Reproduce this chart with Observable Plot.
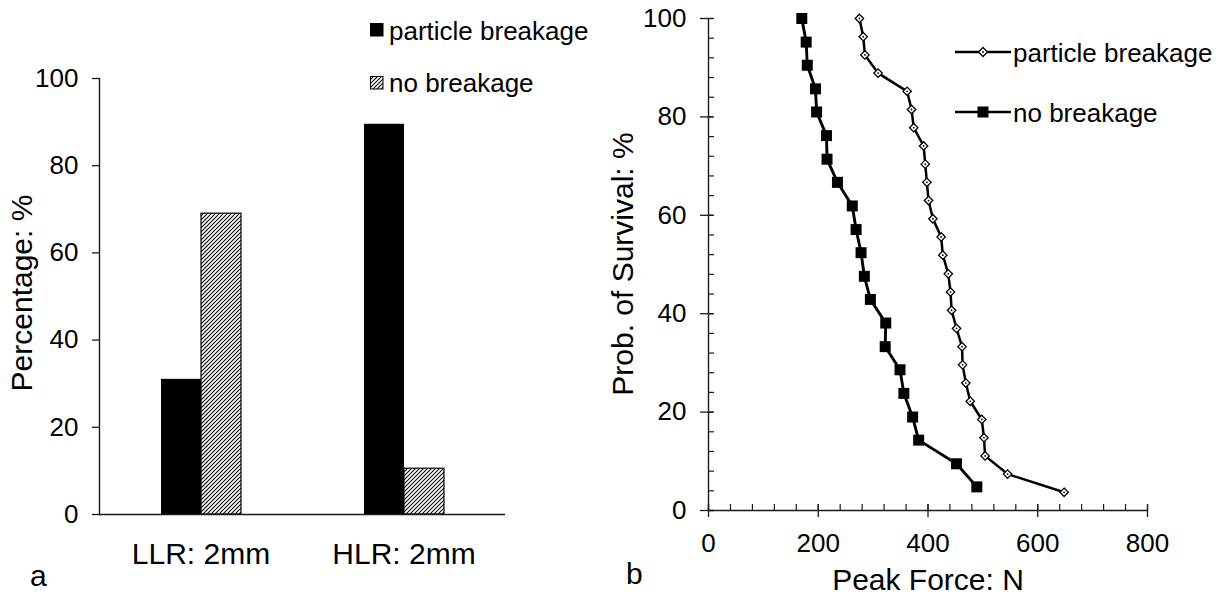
<!DOCTYPE html>
<html><head><meta charset="utf-8">
<script src="https://cdn.jsdelivr.net/npm/d3@7"></script>
<script src="https://cdn.jsdelivr.net/npm/@observablehq/plot@0.6"></script>
<style>
html,body{margin:0;padding:0;background:#fff;}
#wrap{position:relative;width:1224px;height:597px;overflow:hidden;font-family:"Liberation Sans",Arial,sans-serif;color:#000;}
.abs{position:absolute;white-space:nowrap;line-height:1;}
#left{position:absolute;left:0;top:0;}
#right{position:absolute;left:612px;top:0;}
</style></head><body><div id="wrap"><div id="left"></div><div id="right"></div></div>
<script>
// ---------- data: panel a ----------
const categories = ["LLR: 2mm", "HLR: 2mm"];
const seriesNames = ["particle breakage", "no breakage"];
const particleBreakagePct = [31, 89.5];
const noBreakagePct = [69, 10.5];
const percentTicks = [0, 20, 40, 60, 80, 100];

// ---------- data: panel b ----------
const pbForce = [275, 282, 285, 309, 362, 370, 374, 392, 395, 398, 401, 409, 424, 427, 437, 441, 443, 452, 462, 463, 469, 477, 498, 502, 504, 545, 648];
const pbSurvival = [100, 96.3, 92.6, 88.9, 85.2, 81.5, 77.8, 74.1, 70.4, 66.7, 63.0, 59.3, 55.6, 51.9, 48.1, 44.4, 40.7, 37.0, 33.3, 29.6, 25.9, 22.2, 18.5, 14.8, 11.1, 7.4, 3.7];
const nbForce = [170, 178, 180, 195, 197, 215, 216, 235, 262, 269, 278, 284, 295, 323, 322, 349, 356, 372, 383, 452, 489];
const nbSurvival = [100, 95.2, 90.5, 85.7, 81.0, 76.2, 71.4, 66.7, 61.9, 57.1, 52.4, 47.6, 42.9, 38.1, 33.3, 28.6, 23.8, 19.0, 14.3, 9.5, 4.8];
const forceTicks = [0, 200, 400, 600, 800];
const forceMinorTicks = [0, 40, 80, 120, 160, 200, 240, 280, 320, 360, 400, 440, 480, 520, 560, 600, 640, 680, 720, 760, 800];
const survivalTicks = [0, 20, 40, 60, 80, 100];
const survivalMinorTicks = [0, 4, 8, 12, 16, 20, 24, 28, 32, 36, 40, 44, 48, 52, 56, 60, 64, 68, 72, 76, 80, 84, 88, 92, 96, 100];
const panelLabels = ["a", "b"];
const axisTitles = {aY: "Percentage: %", bY: "Prob. of Survival: %", bX: "Peak Force: N"};

const FONT = "'Liberation Sans', Arial, sans-serif";
const AX = "#1a1a1a";

// ---------- panel a ----------
const barData = [];
categories.forEach((c, i) => {
  barData.push({cat: c, series: seriesNames[0], value: particleBreakagePct[i]});
  barData.push({cat: c, series: seriesNames[1], value: noBreakagePct[i]});
});

const left = Plot.plot({
  width: 612, height: 597,
  marginLeft: 98, marginRight: 107, marginTop: 78, marginBottom: 83,
  style: {fontFamily: FONT, background: "transparent", overflow: "visible", color: "#000"},
  fx: {domain: categories, padding: 0, label: null},
  x: {domain: seriesNames, paddingInner: 0, paddingOuter: 1.5, axis: null},
  y: {domain: [0, 100], label: null},
  marks: [
    Plot.barY(barData.filter(d => d.series === seriesNames[0]), {fx: "cat", x: "series", y: "value", fill: "black"}),
    Plot.barY(barData.filter(d => d.series === seriesNames[1]), {fx: "cat", x: "series", y: "value", fill: "url(#hatch)", stroke: "black", strokeWidth: 1.2}),
    Plot.ruleY([0], {stroke: AX, strokeWidth: 1.4}),
    Plot.frame({anchor: "left", facetAnchor: "left", stroke: AX, strokeWidth: 1.4}),
    Plot.axisY({ticks: percentTicks, tickSize: 7, stroke: AX, strokeWidth: 1.3, fill: "none", label: null}),
    Plot.axisY({ticks: percentTicks, tickSize: 0, tickPadding: 21, fontSize: 26, label: null, tickFormat: d => String(d)}),
    Plot.axisFx({anchor: "bottom", tickSize: 0, tickPadding: 28, fontSize: 30, label: null})
  ]
});
left.insertAdjacentHTML("afterbegin",
  '<defs><pattern id="hatch" patternUnits="userSpaceOnUse" width="4" height="4">' +
  '<rect width="4" height="4" fill="white"/>' +
  '<path d="M-1,1 l2,-2 M0,4 l4,-4 M3,5 l2,-2" stroke="black" stroke-width="1.05"/>' +
  '</pattern></defs>');
document.getElementById("left").appendChild(left);

// ---------- panel b ----------
const pb = pbForce.map((f, i) => ({force: f, surv: pbSurvival[i]}));
const nb = nbForce.map((f, i) => ({force: f, surv: nbSurvival[i]}));

const right = Plot.plot({
  width: 612, height: 597,
  marginLeft: 96, marginRight: 77, marginTop: 18, marginBottom: 87,
  style: {fontFamily: FONT, background: "transparent", overflow: "visible", color: "#000"},
  x: {domain: [0, 800], label: null},
  y: {domain: [0, 100], label: null},
  marks: [
    Plot.ruleX([0], {stroke: AX, strokeWidth: 1.4}),
    Plot.ruleY([0], {stroke: AX, strokeWidth: 1.4}),
    Plot.axisY({ticks: survivalMinorTicks, tickSize: 6, dx: 6, stroke: AX, strokeWidth: 1.2, fill: "none", label: null}),
    Plot.axisY({ticks: survivalTicks, tickSize: 13, dx: 5, stroke: AX, strokeWidth: 1.3, fill: "none", label: null}),
    Plot.axisY({ticks: survivalTicks, tickSize: 0, tickPadding: 22, fontSize: 26, label: null, tickFormat: d => String(d)}),
    Plot.axisX({ticks: forceMinorTicks, tickSize: 6, dy: -6, stroke: AX, strokeWidth: 1.2, fill: "none", label: null}),
    Plot.axisX({ticks: forceTicks, tickSize: 13, dy: -6, stroke: AX, strokeWidth: 1.3, fill: "none", label: null}),
    Plot.axisX({ticks: forceTicks, tickSize: 0, tickPadding: 23, fontSize: 26, label: null, tickFormat: d => String(d)}),
    Plot.line(nb, {x: "force", y: "surv", stroke: "black", strokeWidth: 2.9}),
    Plot.dot(nb, {x: "force", y: "surv", symbol: "square", r: 6.2, fill: "black"}),
    Plot.line(pb, {x: "force", y: "surv", stroke: "black", strokeWidth: 2.5}),
    Plot.dot(pb, {x: "force", y: "surv", symbol: "diamond2", r: 3.8, fill: "white", stroke: "black", strokeWidth: 1.3}),
    Plot.dot(pb, {x: "force", y: "surv", r: 0.9, fill: "black"})
  ]
});
document.getElementById("right").appendChild(right);

// ---------- overlays: titles, panel letters, legends ----------
const wrap = document.getElementById("wrap");
function addText(txt, x, y, size, opts = {}) {
  const d = document.createElement("div");
  d.className = "abs";
  d.textContent = txt;
  d.style.fontSize = size + "px";
  d.style.left = x + "px";
  d.style.top = y + "px";
  if (opts.rotate) {
    d.style.transform = "translate(-50%,-50%) rotate(-90deg)";
  } else if (opts.center) {
    d.style.transform = "translate(-50%,-50%)";
  } else {
    d.style.transform = "translate(0,-50%)";
  }
  wrap.appendChild(d);
  return d;
}
addText(axisTitles.aY, 22, 293, 30, {rotate: true});
addText(axisTitles.bY, 623, 264, 30, {rotate: true});
addText(axisTitles.bX, 928, 580, 30, {center: true});
addText(panelLabels[0], 30, 576, 30);
addText(panelLabels[1], 626, 574, 30);

// legend panel a
function addSwatch(x, y, fill, stroke) {
  const s = document.createElementNS("http://www.w3.org/2000/svg", "svg");
  s.setAttribute("width", 14); s.setAttribute("height", 14);
  s.style.position = "absolute"; s.style.left = x + "px"; s.style.top = y + "px";
  s.innerHTML = `<rect x="0.5" y="0.5" width="12.5" height="12.5" fill="${fill}" stroke="${stroke}" stroke-width="1"/>`;
  wrap.appendChild(s);
}
addSwatch(370, 23, "black", "black");
addText(seriesNames[0], 389, 31, 26);
addSwatch(370, 76, "url(#hatch)", "black");
addText(seriesNames[1], 389, 83, 26);

// legend panel b
function addLineKey(x, y, kind) {
  const s = document.createElementNS("http://www.w3.org/2000/svg", "svg");
  s.setAttribute("width", 56); s.setAttribute("height", 20);
  s.style.position = "absolute"; s.style.left = x + "px"; s.style.top = (y - 10) + "px";
  let sym;
  if (kind === "diamond") {
    sym = `<path d="M28,5.5 L32.5,10 L28,14.5 L23.5,10 Z" fill="white" stroke="black" stroke-width="1.3"/><circle cx="28" cy="10" r="0.9" fill="black"/>`;
  } else {
    sym = `<rect x="22.5" y="4.5" width="11" height="11" fill="black"/>`;
  }
  s.innerHTML = `<line x1="0" y1="10" x2="56" y2="10" stroke="black" stroke-width="2.6"/>` + sym;
  wrap.appendChild(s);
}
addLineKey(955, 52, "diamond");
addText(seriesNames[0], 1013, 53, 26);
addLineKey(955, 112, "square");
addText(seriesNames[1], 1013, 113, 26);
</script>
</body></html>
